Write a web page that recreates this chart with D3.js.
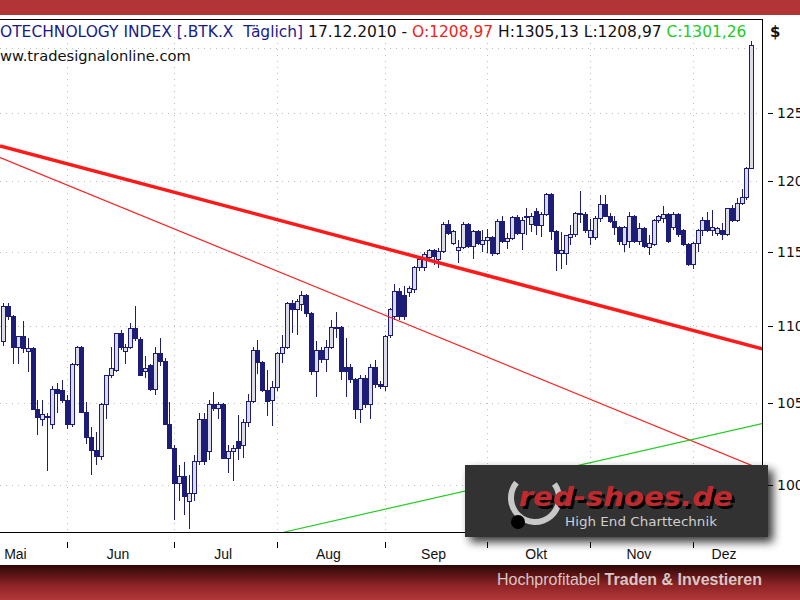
<!DOCTYPE html>
<html><head><meta charset="utf-8">
<script src="https://cdn.jsdelivr.net/npm/d3@7"></script>
<style>body{margin:0;background:#fff}svg{display:block}</style>
</head><body>
<svg id="c" width="800" height="600"></svg>
<script>
// ---- data ----
const monthLabels = ["Mai","Jun","Jul","Aug","Sep","Okt","Nov","Dez"];
const monthLabelIdx = [2.5,23.5,45,66.5,88,109,130,147.4];
const monthStartIdx = [13,35,56,78,99,120,141];
const yTickValues = [1000,1050,1100,1150,1200,1250];
const yGridValues = [1000,1050,1100,1150,1200,1250,1300];
const opens = [1090,1113,1106,1086,1093,1083,1085,1046,1040,1042,1037,1059,1058,1052,1037,1075,1086,1044,1029,1021,
1017,1049,1068,1071,1095,1083,1086,1098,1091,1070,1074,1059,1082,1077,1037,1022,1001,1005,990,995,
1014,1040,1020,1049,1047,1049,1016,1020,1026,1024,1038,1051,1084,1076,1058,1052,1060,1082,1086,1115,
1111,1114,1120,1108,1070,1084,1078,1086,1099,1099,1073,1073,1065,1046,1066,1049,1073,1062,1061,1094,
1106,1123,1120,1122,1124,1139,1139,1146,1151,1145,1150,1169,1156,1151,1153,1169,1154,1164,1155,1158,
1160,1149,1171,1157,1159,1174,1163,1174,1169,1178,1168,1176,1190,1164,1149,1149,1160,1162,1176,1176,
1160,1160,1173,1183,1175,1171,1167,1155,1157,1175,1157,1166,1153,1155,1172,1173,1176,1167,1176,1165,
1155,1141,1156,1165,1172,1165,1163,1165,1162,1180,1172,1184,1188,1208.97];
const highs = [1115,1115,1107,1093,1103,1092,1086,1052,1052,1044,1061,1063,1065,1055,1076,1087,1087,1051,1035,1032,
1050,1068,1086,1095,1097,1088,1102,1113,1093,1080,1075,1086,1092,1079,1051,1024,1012,1014,1006,1018,
1044,1044,1052,1057,1051,1050,1024,1024,1043,1040,1056,1086,1091,1077,1071,1064,1083,1094,1116,1117,
1118,1123,1121,1109,1090,1086,1091,1104,1109,1100,1092,1075,1066,1068,1068,1075,1078,1064,1094,1112,
1128,1125,1127,1127,1140,1146,1150,1152,1152,1153,1171,1172,1165,1158,1171,1170,1165,1165,1165,1166,
1161,1173,1175,1163,1175,1176,1174,1181,1177,1181,1178,1191,1191,1165,1164,1162,1169,1178,1193,1178,
1173,1175,1190,1190,1177,1175,1168,1168,1178,1176,1170,1167,1162,1173,1176,1182,1177,1178,1177,1166,
1156,1157,1166,1174,1178,1179,1167,1170,1181,1183,1188,1194,1210,1305.13];
const lows = [1087,1104,1075,1075,1082,1070,1046,1030,1036,1008,1034,1044,1050,1034,1035,1074,1044,1025,1006,1012,
1015,1040,1066,1070,1084,1075,1085,1090,1068,1066,1058,1055,1074,1037,1022,979,990,982,974,990,
1012,1012,1015,1045,1040,1016,1007,1002,1015,1016,1035,1050,1069,1057,1042,1036,1058,1076,1085,1095,
1094,1110,1106,1068,1054,1076,1070,1085,1092,1065,1054,1063,1040,1038,1047,1040,1060,1059,1058,1092,
1104,1104,1104,1119,1122,1137,1137,1145,1141,1139,1149,1162,1155,1142,1152,1153,1145,1155,1150,1149,
1147,1148,1156,1152,1158,1162,1151,1162,1164,1162,1160,1175,1158,1137,1138,1141,1155,1160,1170,1163,
1155,1158,1171,1174,1170,1162,1155,1150,1153,1156,1155,1153,1148,1154,1170,1170,1156,1165,1160,1154,
1140,1138,1150,1161,1164,1161,1161,1158,1161,1171,1171,1183,1186,1208.97];
const closes = [1113,1106,1086,1093,1085,1085,1046,1041,1043,1041,1059,1056,1052,1037,1075,1086,1044,1029,1021,1017,
1049,1068,1072,1095,1086,1086,1098,1092,1068,1072,1059,1082,1077,1037,1022,1001,1005,993,995,1014,
1040,1014,1049,1047,1049,1016,1020,1022,1022,1038,1051,1084,1076,1058,1051,1060,1082,1086,1115,1111,
1116,1120,1108,1070,1084,1078,1086,1099,1098,1070,1070,1065,1046,1066,1049,1073,1062,1061,1093,1111,
1123,1106,1106,1125,1139,1145,1148,1151,1147,1150,1169,1163,1164,1153,1169,1154,1164,1156,1158,1160,
1149,1171,1157,1159,1174,1163,1172,1175,1175,1168,1176,1190,1164,1149,1151,1161,1162,1177,1177,1165,
1165,1173,1183,1175,1171,1167,1157,1167,1175,1157,1166,1154,1156,1172,1175,1176,1157,1176,1162,1155,
1141,1156,1165,1172,1165,1167,1166,1162,1180,1172,1184,1188,1209,1301.26];
// trend lines: [bar index, price]
const trendThick = [[-0.65,1225.5],[155.2,1085]];
const trendThin  = [[-0.65,1217],[155.2,1009]];
const trendGreen = [[57.5,972],[155.2,1037.3]];

// ---- layout ----
const W=800,H=600;
const plot={left:0,right:762,top:19,bottom:532};
const svg=d3.select("#c");
const x=d3.scaleLinear().domain([0,153]).range([3.2,3.2+153*4.89]);
const y=d3.scaleLog().domain([972,1322.5]).range([plot.bottom,plot.top]);

const defs=svg.append("defs");
const fg=defs.append("linearGradient").attr("id","foot").attr("x1",0).attr("y1",0).attr("x2",0).attr("y2",1);
fg.append("stop").attr("offset","0%").attr("stop-color","#2b0606");
fg.append("stop").attr("offset","55%").attr("stop-color","#8a2224");
fg.append("stop").attr("offset","100%").attr("stop-color","#b4383a");
svg.append("rect").attr("x",0).attr("y",0).attr("width",W).attr("height",15).attr("fill","#b23437");
svg.append("rect").attr("x",0).attr("y",565).attr("width",W).attr("height",35).attr("fill","url(#foot)");

defs.append("clipPath").attr("id","pc").append("rect")
  .attr("x",plot.left).attr("y",plot.top).attr("width",plot.right-plot.left).attr("height",plot.bottom-plot.top);

// grid
const g=svg.append("g");
g.selectAll(".hg").data(yGridValues).enter().append("line")
  .attr("x1",plot.left).attr("x2",plot.right)
  .attr("y1",d=>Math.round(y(d))+0.5).attr("y2",d=>Math.round(y(d))+0.5)
  .attr("stroke","#bdbdbd").attr("stroke-dasharray","1,5");
g.selectAll(".vg").data(monthStartIdx).enter().append("line")
  .attr("y1",plot.top).attr("y2",plot.bottom)
  .attr("x1",d=>Math.round(x(d))+0.5).attr("x2",d=>Math.round(x(d))+0.5)
  .attr("stroke","#bdbdbd").attr("stroke-dasharray","1,5");

// candles
const idx=d3.range(opens.length);
const cg=svg.append("g").attr("clip-path","url(#pc)").attr("shape-rendering","crispEdges");
const navy="#1d1d78";
cg.selectAll(".w").data(idx).enter().append("line")
  .attr("x1",i=>Math.round(x(i))+0.5).attr("x2",i=>Math.round(x(i))+0.5)
  .attr("y1",i=>y(highs[i])).attr("y2",i=>y(lows[i]))
  .attr("stroke",navy).attr("stroke-width",1);
cg.selectAll(".b").data(idx).enter().append("rect")
  .attr("x",i=>Math.round(x(i))-1.5).attr("width",4)
  .attr("y",i=>y(Math.max(opens[i],closes[i])))
  .attr("height",i=>Math.max(1,Math.abs(y(opens[i])-y(closes[i]))))
  .attr("fill",i=>closes[i]>=opens[i]?"#dcdce8":navy)
  .attr("stroke",navy).attr("stroke-width",1);

// trend lines
const lg=svg.append("g").attr("clip-path","url(#pc)");
const line=d3.line().x(d=>x(d[0])).y(d=>y(d[1]));
lg.append("path").attr("d",line(trendThin)).attr("stroke","#ff2020").attr("stroke-width",1.2).attr("fill","none");
lg.append("path").attr("d",line(trendThick)).attr("stroke","#ff1a1a").attr("stroke-width",3.5).attr("fill","none");
lg.append("path").attr("d",line(trendGreen)).attr("stroke","#22cc22").attr("stroke-width",1.2).attr("fill","none");

// frame
svg.append("line").attr("x1",0).attr("x2",plot.right+0.5).attr("y1",plot.top+0.5).attr("y2",plot.top+0.5).attr("stroke","#000");
svg.append("line").attr("x1",plot.right+0.5).attr("x2",plot.right+0.5).attr("y1",plot.top).attr("y2",plot.bottom+0.5).attr("stroke","#000");
svg.append("line").attr("x1",0).attr("x2",plot.right+0.5).attr("y1",plot.bottom+0.5).attr("y2",plot.bottom+0.5).attr("stroke","#000");

// right axis
const ya=svg.append("g");
ya.selectAll(".t").data(yTickValues).enter().append("line")
  .attr("x1",768).attr("x2",773).attr("y1",d=>Math.round(y(d))+0.5).attr("y2",d=>Math.round(y(d))+0.5).attr("stroke","#000");
ya.selectAll(".l").data(yTickValues).enter().append("text")
  .attr("x",777).attr("y",d=>y(d)+5).text(d=>d)
  .attr("font-family","DejaVu Sans").attr("font-size",14).attr("fill","#111");
svg.append("text").attr("x",770).attr("y",37).text("$").attr("font-family","DejaVu Sans").attr("font-size",15).attr("font-weight","bold").attr("fill","#111");

// bottom axis
const xa=svg.append("g");
xa.selectAll(".t").data(monthStartIdx).enter().append("line")
  .attr("x1",d=>Math.round(x(d))+0.5).attr("x2",d=>Math.round(x(d))+0.5).attr("y1",542).attr("y2",548).attr("stroke","#000");
xa.selectAll(".l").data(monthLabels).enter().append("text")
  .attr("x",(d,i)=>x(monthLabelIdx[i])).attr("y",559).attr("text-anchor","middle").text(d=>d)
  .attr("font-family","Liberation Sans Narrow, Liberation Sans").attr("font-size",14).attr("fill","#111");

// title (font size fitted to the reference width)
function fit(sel,target,base){const L=sel.node().getComputedTextLength();sel.attr("font-size",base*target/L);}
const t=svg.append("text").attr("x",0).attr("y",37).attr("font-family","DejaVu Sans").attr("font-size",15);
t.append("tspan").attr("fill","#1a1a8a").text("OTECHNOLOGY INDEX [.BTK.X\u00a0 Täglich]");
t.append("tspan").attr("fill","#111").text(" 17.12.2010 - ");
t.append("tspan").attr("fill","#ee2222").text("O:1208,97");
t.append("tspan").attr("fill","#111").text(" H:1305,13 L:1208,97 ");
t.append("tspan").attr("fill","#22cc22").text("C:1301,26");
fit(t,747,15);
const wsite=svg.append("text").attr("x",0).attr("y",61).attr("font-family","DejaVu Sans").attr("font-size",15).attr("fill","#111").text("ww.tradesignalonline.com");
fit(wsite,191,15);

// logo
const sh=defs.append("filter").attr("id","sh").attr("x","-20%").attr("y","-30%").attr("width","150%").attr("height","180%");
sh.append("feGaussianBlur").attr("in","SourceAlpha").attr("stdDeviation",5).attr("result","b");
sh.append("feOffset").attr("in","b").attr("dx",5).attr("dy",5).attr("result","o");
sh.append("feComponentTransfer").attr("in","o").attr("result","o2").append("feFuncA").attr("type","linear").attr("slope",0.8);
const fm=sh.append("feMerge"); fm.append("feMergeNode").attr("in","o2"); fm.append("feMergeNode").attr("in","SourceGraphic");
const ts=defs.append("filter").attr("id","ts").attr("x","-5%").attr("y","-20%").attr("width","115%").attr("height","150%");
ts.append("feOffset").attr("in","SourceAlpha").attr("dx",3).attr("dy",3).attr("result","o");
ts.append("feComponentTransfer").attr("in","o").attr("result","o2").append("feFuncA").attr("type","linear").attr("slope",0.9);
const tm=ts.append("feMerge"); tm.append("feMergeNode").attr("in","o2"); tm.append("feMergeNode").attr("in","SourceGraphic");

const logo=svg.append("g");
logo.append("rect").attr("x",465).attr("y",465).attr("width",303).attr("height",72).attr("fill","#333333").attr("filter","url(#sh)");
const arc=d3.arc().innerRadius(21).outerRadius(27).startAngle(0.3*Math.PI).endAngle(1.72*Math.PI);
logo.append("path").attr("d",arc()).attr("transform","translate(535,498)").attr("fill","#c8c8c8");
logo.append("circle").attr("cx",518).attr("cy",522).attr("r",7).attr("fill","#000");
logo.append("text").attr("x",519).attr("y",506).text("red-shoes.de").attr("font-family","DejaVu Sans").attr("font-weight","bold").attr("font-style","italic").attr("font-size",27).attr("fill","#c0292d").attr("textLength",214).attr("lengthAdjust","spacingAndGlyphs").attr("filter","url(#ts)");
logo.append("text").attr("x",565).attr("y",526).text("High End Charttechnik").attr("font-family","DejaVu Sans").attr("font-size",12.5).attr("fill","#cfcfcf").attr("textLength",152).attr("lengthAdjust","spacingAndGlyphs");

// footer text
const ft=svg.append("text").attr("x",762).attr("y",585).attr("text-anchor","end").attr("font-family","Liberation Sans Narrow, Liberation Sans").attr("font-size",16).attr("fill","#d9c6c6");
ft.append("tspan").text("Hochprofitabel ");
ft.append("tspan").attr("font-weight","bold").text("Traden & Investieren");
</script>
</body></html>
